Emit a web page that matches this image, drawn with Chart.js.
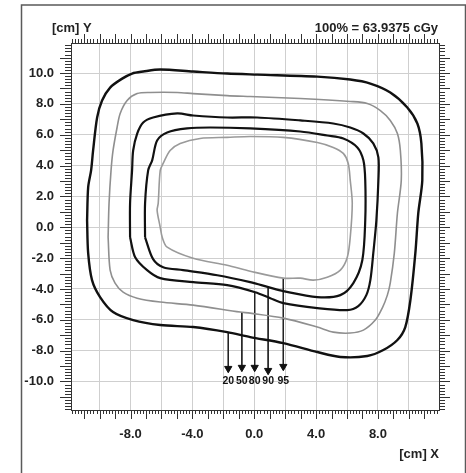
<!DOCTYPE html>
<html>
<head>
<meta charset="utf-8">
<script src="https://cdn.jsdelivr.net/npm/chart.js@4.4.1/dist/chart.umd.min.js"></script>
<style>
  html, body { margin: 0; padding: 0; background: #fff; }
  #wrap { width: 466px; height: 473px; position: relative; }
</style>
</head>
<body>
<div id="wrap"><canvas id="dose"></canvas></div>
<script>
// axis range and tick values (cm)
const AXIS_MIN = -11.85;
const AXIS_MAX = 11.95;
const GRID_VALUES = [-10, -8, -6, -4, -2, 0, 2, 4, 6, 8, 10];
const X_LABELS = [-8, -4, 0, 4, 8];

// isodose levels (%)
const LEVELS = [20, 50, 80, 90, 95];

const ISO_20 = [
  [-10.81, 0.45], [-10.74, 2.59], [-10.55, 3.69], [-10.42, 4.98], [-10.16, 7.12],
  [-9.84, 8.22], [-9.32, 9.06], [-8.54, 9.64], [-7.90, 9.97], [-7.18, 10.10],
  [-6.08, 10.23], [-3.95, 10.10], [-1.75, 9.97], [0.19, 9.90], [4.08, 9.77],
  [6.21, 9.58], [7.51, 9.32], [8.80, 8.74], [9.90, 7.77], [10.55, 6.73],
  [10.81, 5.44], [10.87, 3.04], [10.61, 0.91], [10.42, -1.68], [10.10, -4.72],
  [9.77, -6.47], [9.26, -7.31], [8.35, -7.96], [7.31, -8.35], [5.57, -8.41],
  [4.08, -8.09], [1.88, -7.51], [-0.26, -7.12], [-1.75, -6.80], [-3.95, -6.47],
  [-6.08, -6.34], [-7.83, -6.02], [-9.13, -5.50], [-9.97, -4.53], [-10.49, -3.43],
  [-10.74, -1.68], [-10.81, 0.45]
];

const ISO_50 = [
  [-9.45, -0.65], [-9.39, 1.55], [-9.26, 3.69], [-9.13, 4.98], [-8.87, 6.47],
  [-8.67, 7.38], [-8.22, 8.22], [-7.57, 8.67], [-6.73, 8.74], [-4.98, 8.74],
  [-3.95, 8.67], [-1.75, 8.54], [-0.26, 8.48], [2.98, 8.35], [6.21, 8.16],
  [7.31, 8.03], [8.16, 7.57], [8.80, 6.93], [9.26, 6.08], [9.45, 4.98],
  [9.51, 3.04], [9.26, 0.91], [9.06, -1.68], [8.80, -3.60], [8.61, -4.40],
  [8.28, -5.24], [7.83, -6.02], [7.06, -6.67], [6.21, -6.86], [5.11, -6.80],
  [4.08, -6.47], [1.88, -5.89], [-0.26, -5.57], [-0.91, -5.50], [-3.95, -5.05],
  [-6.08, -4.85], [-7.57, -4.60], [-8.48, -4.21], [-9.00, -3.62], [-9.32, -2.78],
  [-9.45, -0.65]
];

const ISO_80 = [
  [-8.03, -0.65], [-8.03, 1.55], [-7.90, 3.69], [-7.83, 4.98], [-7.57, 6.08],
  [-7.18, 6.80], [-6.54, 7.12], [-4.98, 7.38], [-3.95, 7.25], [-1.75, 7.12],
  [0.19, 7.12], [2.98, 6.93], [5.11, 6.73], [6.21, 6.47], [7.06, 6.08],
  [7.70, 5.44], [8.03, 4.53], [8.03, 3.04], [7.90, 0.45], [7.70, -1.68],
  [7.51, -3.43], [7.25, -4.40], [6.73, -5.11], [6.02, -5.37], [4.08, -5.24],
  [1.88, -4.92], [1.04, -4.60], [0.06, -4.21], [-1.75, -3.75], [-3.95, -3.56],
  [-6.08, -3.30], [-6.93, -2.78], [-7.70, -1.94], [-8.03, -0.65]
];

const ISO_90 = [
  [-7.06, -0.65], [-7.06, 1.55], [-6.86, 3.69], [-6.60, 4.34], [-6.28, 5.63],
  [-5.63, 6.15], [-4.34, 6.41], [-2.85, 6.47], [-0.26, 6.41], [2.98, 6.21],
  [4.72, 5.95], [5.76, 5.76], [6.67, 5.18], [7.06, 4.34], [7.18, 3.04],
  [7.18, 0.45], [6.99, -2.14], [6.41, -3.62], [5.57, -4.40], [4.08, -4.53],
  [1.88, -4.14], [0.91, -3.88], [-0.26, -3.56], [-2.39, -3.11], [-4.60, -2.78],
  [-5.89, -2.59], [-6.54, -2.07], [-7.06, -0.65]
];

const ISO_95 = [
  [-6.08, 0.00], [-6.28, 1.10], [-6.21, 1.55], [-6.08, 3.69], [-5.89, 4.14],
  [-5.44, 4.98], [-4.79, 5.44], [-3.50, 5.76], [-1.75, 5.83], [-0.26, 5.89],
  [1.88, 5.83], [4.08, 5.50], [5.11, 5.18], [5.76, 4.79], [6.08, 4.14],
  [6.21, 3.04], [6.34, 1.55], [6.21, -0.65], [6.02, -1.94], [5.57, -2.78],
  [4.72, -3.24], [3.82, -3.43], [2.98, -3.30], [1.88, -3.30], [-0.26, -2.85],
  [-1.75, -2.46], [-3.95, -2.01], [-5.63, -1.29], [-5.95, -0.65], [-6.08, 0.00]
];

// level arrows: x position, start on the curve, arrow head centre
const ARROW_X = [-1.68, -0.80, 0.03, 0.90, 1.88];
const ARROW_FROM = [-6.85, -5.52, -4.20, -3.86, -3.30];
const ARROW_TO = [-9.16, -9.09, -9.09, -9.29, -9.03];
const LABEL_Y = -9.97;

const toXY = pts => pts.map(p => ({ x: p[0], y: p[1] }));

function curve(pts, color, width) {
  return {
    data: toXY(pts),
    showLine: true,
    borderColor: color,
    borderWidth: width,
    pointRadius: 0,
    tension: 0.3,
    fill: false
  };
}

const datasets = [
  curve(ISO_20, '#111', 2.4),
  curve(ISO_50, '#8f8f8f', 1.6),
  curve(ISO_80, '#111', 2.2),
  curve(ISO_90, '#111', 2.2),
  curve(ISO_95, '#9a9a9a', 1.6)
];

ARROW_X.forEach((x, i) => {
  datasets.push({
    data: [{ x: x, y: ARROW_FROM[i] }, { x: x, y: ARROW_TO[i] }],
    showLine: true,
    borderColor: '#222',
    borderWidth: 1,
    pointRadius: [0, 4.2],
    pointStyle: 'triangle',
    pointRotation: 180,
    pointBackgroundColor: '#111',
    pointBorderColor: '#111',
    pointBorderWidth: 1
  });
});

// frame, outward tick marks and the free texts
const decor = {
  id: 'decor',
  afterDraw(chart) {
    const ctx = chart.ctx;
    const a = chart.chartArea;
    const xs = chart.scales.x;
    const ys = chart.scales.y;
    ctx.save();

    // outer panel border
    ctx.strokeStyle = '#5a5a5a';
    ctx.lineWidth = 1.5;
    ctx.strokeRect(21.5, 5, 444, 480);

    // plot frame
    ctx.strokeStyle = '#333';
    ctx.lineWidth = 1;
    ctx.strokeRect(Math.round(a.left) + 0.5, Math.round(a.top) + 0.5,
      Math.round(a.right - a.left), Math.round(a.bottom - a.top));

    // tick marks every 0.2 cm, long ones every 1 cm
    ctx.beginPath();
    for (let k = -59; k <= 59; k++) {
      const v = k / 5;
      if (v < AXIS_MIN || v > AXIS_MAX) continue;
      const major = k % 5 === 0;
      const px = Math.round(xs.getPixelForValue(v)) + 0.5;
      const py = Math.round(ys.getPixelForValue(v)) + 0.5;
      const hx = major ? 9 : 4;
      const hy = major ? 11 : 6;
      ctx.moveTo(px, a.top); ctx.lineTo(px, a.top - hx);
      ctx.moveTo(px, a.bottom); ctx.lineTo(px, a.bottom + hx);
      ctx.moveTo(a.left, py); ctx.lineTo(a.left - hy, py);
      ctx.moveTo(a.right, py); ctx.lineTo(a.right + hy, py);
    }
    ctx.stroke();

    // level labels under the arrows
    ctx.fillStyle = '#111';
    ctx.font = 'bold 10.5px "Liberation Sans", Arial, sans-serif';
    ctx.textAlign = 'center';
    ctx.textBaseline = 'middle';
    LEVELS.forEach((lv, i) => {
      ctx.fillText(String(lv), xs.getPixelForValue(ARROW_X[i]), ys.getPixelForValue(LABEL_Y));
    });

    // corner texts
    ctx.fillStyle = '#222';
    ctx.font = 'bold 13px "Liberation Sans", Arial, sans-serif';
    ctx.textAlign = 'left';
    ctx.fillText('[cm] Y', 52, 28);
    ctx.textAlign = 'right';
    ctx.fillText('100% = 63.9375 cGy', 438, 28);
    ctx.fillText('[cm] X', 439, 454);
    ctx.restore();
  }
};

const tickFont = { family: '"Liberation Sans", Arial, sans-serif', size: 13, weight: 'bold' };

new Chart(document.getElementById('dose'), {
  type: 'scatter',
  data: { datasets: datasets },
  options: {
    responsive: true,
    maintainAspectRatio: false,
    animation: false,
    layout: { padding: { left: 0, top: 43, right: 27, bottom: 0 } },
    plugins: {
      legend: { display: false },
      tooltip: { enabled: false }
    },
    scales: {
      x: {
        type: 'linear',
        min: AXIS_MIN,
        max: AXIS_MAX,
        afterBuildTicks: s => { s.ticks = GRID_VALUES.map(v => ({ value: v })); },
        afterFit: s => { s.height = 63; },
        grid: { color: '#cfcfcf', lineWidth: 1, drawTicks: false },
        border: { display: false },
        ticks: {
          autoSkip: false,
          maxRotation: 0,
          padding: 17,
          color: '#222',
          font: tickFont,
          callback: v => X_LABELS.includes(v) ? v.toFixed(1) : ''
        }
      },
      y: {
        type: 'linear',
        min: AXIS_MIN,
        max: AXIS_MAX,
        afterBuildTicks: s => { s.ticks = GRID_VALUES.map(v => ({ value: v })); },
        afterFit: s => { s.width = 71; },
        grid: { color: '#cfcfcf', lineWidth: 1, drawTicks: false },
        border: { display: false },
        ticks: {
          autoSkip: false,
          padding: 17,
          color: '#222',
          font: tickFont,
          callback: v => v.toFixed(1)
        }
      }
    }
  },
  plugins: [decor]
});
</script>
</body>
</html>
